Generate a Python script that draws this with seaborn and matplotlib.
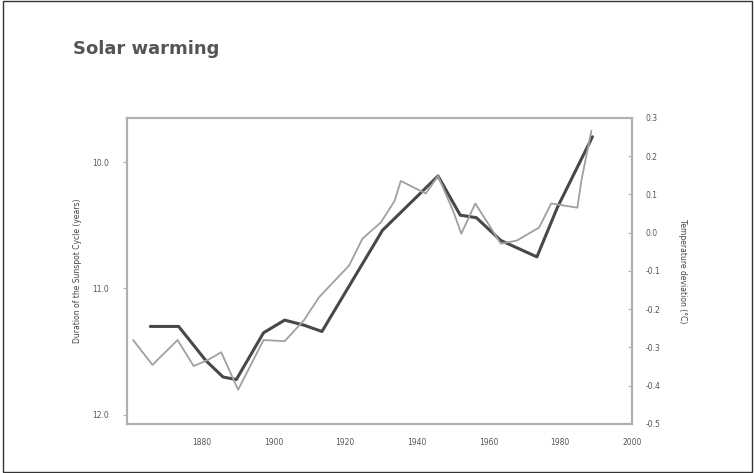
import numpy as np
import pandas as pd
import seaborn as sns
import matplotlib.pyplot as plt
from matplotlib.patches import Rectangle

# solar cycle length (years), left axis, inverted
cycle_years = [1865.6, 1873.5, 1881.1, 1885.9, 1889.6, 1897.2, 1903.1, 1908.5, 1913.5,
               1930.4, 1945.9, 1952.1, 1956.6, 1963.4, 1973.5, 1979.2, 1989.0]
cycle_length = [11.30, 11.30, 11.57, 11.70, 11.72, 11.35, 11.25, 11.29, 11.34,
                10.54, 10.11, 10.42, 10.44, 10.62, 10.75, 10.36, 9.80]

# temperature deviation (deg C), right axis
temp_years = [1860.8, 1866.2, 1873.2, 1877.7, 1881.7, 1885.4, 1890.1, 1897.2, 1903.1,
              1908.5, 1912.7, 1921.1, 1924.8, 1929.9, 1933.8, 1935.5, 1939.7, 1942.5,
              1945.9, 1950.1, 1952.4, 1956.3, 1960.6, 1963.4, 1967.9, 1974.1, 1977.5,
              1984.8, 1985.9, 1988.7]
temp_dev = [-0.281, -0.346, -0.281, -0.349, -0.333, -0.313, -0.411, -0.281, -0.284,
            -0.229, -0.169, -0.086, -0.016, 0.026, 0.083, 0.135, 0.115, 0.102,
            0.148, 0.057, -0.003, 0.076, 0.013, -0.029, -0.021, 0.013, 0.076,
            0.065, 0.135, 0.266]

x_ticks = [1880, 1900, 1920, 1940, 1960, 1980, 2000]
left_ticks = [10.0, 11.0, 12.0]
right_ticks = [0.3, 0.2, 0.1, 0.0, -0.1, -0.2, -0.3, -0.4, -0.5]

cycle = pd.DataFrame({"year": cycle_years, "length": cycle_length})
temp = pd.DataFrame({"year": temp_years, "dev": temp_dev})

sns.set_style("white")
plt.rcParams['font.family'] = ['DejaVu Sans']

fig = plt.figure(figsize=(7.54, 4.73), dpi=100)
ax = fig.add_axes([0.168, 0.104, 0.670, 0.647])
ax2 = ax.twinx()

sns.lineplot(data=temp, x="year", y="dev", ax=ax2, color="#a0a0a0", lw=1.3)
sns.lineplot(data=cycle, x="year", y="length", ax=ax, color="#484848", lw=2.2)

ax.set_xlim(1859, 2000)
ax.set_ylim(12.07, 9.65)
ax2.set_ylim(-0.5, 0.3)

ax.set_xticks(x_ticks)
ax.set_xticklabels([str(t) for t in x_ticks], fontsize=5.5, color="#555555")
ax.set_yticks(left_ticks)
ax.set_yticklabels(["%.1f" % t for t in left_ticks], fontsize=5.5, color="#555555")
ax2.set_yticks(right_ticks)
ax2.set_yticklabels(["%.1f" % t for t in right_ticks], fontsize=5.5, color="#555555")

ax.set_xlabel("")
ax.set_ylabel("Duration of the Sunspot Cycle (years)", fontsize=5.5, color="#444444", labelpad=7)
ax2.set_ylabel("Temperature deviation (\u00b0C)", fontsize=5.5, color="#444444",
               rotation=270, labelpad=19)

for a in (ax, ax2):
    for s in a.spines.values():
        s.set_color("#b0b0b0")
        s.set_linewidth(1.5)
ax.tick_params(axis="x", direction="in", length=3, color="#b0b0b0", pad=10)
ax.tick_params(axis="y", direction="out", length=3, color="#b0b0b0", pad=10)
ax2.tick_params(axis="y", direction="in", length=3, color="#b0b0b0", pad=10)

fig.text(0.097, 0.885, "Solar warming", fontsize=13, fontweight="bold", color="#555555")

fig.patches.append(Rectangle((0.004, 0.002), 0.994, 0.996, transform=fig.transFigure,
                             fill=False, edgecolor="#333333", lw=1.0))

fig.savefig("out.png", dpi=100)
